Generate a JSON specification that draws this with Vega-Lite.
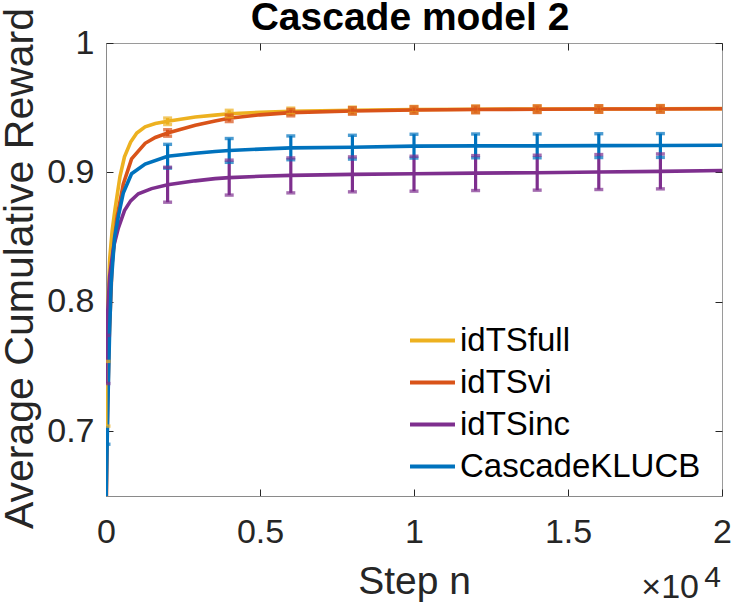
{
  "$schema": "https://vega.github.io/schema/vega-lite/v6.json",
  "width": 616,
  "height": 453,
  "autosize": {"type": "none"},
  "padding": {"left": 106, "top": 43, "right": 9, "bottom": 106},
  "background": "white",
  "datasets": {
    "curves": [
      {"series": "idTSfull", "step": 0, "reward": 0.729},
      {"series": "idTSfull", "step": 30, "reward": 0.765},
      {"series": "idTSfull", "step": 70, "reward": 0.8},
      {"series": "idTSfull", "step": 120, "reward": 0.833},
      {"series": "idTSfull", "step": 200, "reward": 0.855},
      {"series": "idTSfull", "step": 290, "reward": 0.871},
      {"series": "idTSfull", "step": 455, "reward": 0.897},
      {"series": "idTSfull", "step": 600, "reward": 0.912},
      {"series": "idTSfull", "step": 800, "reward": 0.9235},
      {"series": "idTSfull", "step": 1000, "reward": 0.9305},
      {"series": "idTSfull", "step": 1270, "reward": 0.9352},
      {"series": "idTSfull", "step": 1600, "reward": 0.9378},
      {"series": "idTSfull", "step": 2000, "reward": 0.9395},
      {"series": "idTSfull", "step": 2900, "reward": 0.9428},
      {"series": "idTSfull", "step": 3540, "reward": 0.9443},
      {"series": "idTSfull", "step": 4000, "reward": 0.9453},
      {"series": "idTSfull", "step": 5000, "reward": 0.9465},
      {"series": "idTSfull", "step": 6000, "reward": 0.9472},
      {"series": "idTSfull", "step": 8000, "reward": 0.948},
      {"series": "idTSfull", "step": 10000, "reward": 0.9485},
      {"series": "idTSfull", "step": 12000, "reward": 0.9488},
      {"series": "idTSfull", "step": 14000, "reward": 0.949},
      {"series": "idTSfull", "step": 16000, "reward": 0.949},
      {"series": "idTSfull", "step": 18000, "reward": 0.9492},
      {"series": "idTSfull", "step": 20000, "reward": 0.9493},

      {"series": "idTSvi", "step": 0, "reward": 0.62},
      {"series": "idTSvi", "step": 40, "reward": 0.7},
      {"series": "idTSvi", "step": 100, "reward": 0.77},
      {"series": "idTSvi", "step": 200, "reward": 0.83},
      {"series": "idTSvi", "step": 347, "reward": 0.8638},
      {"series": "idTSvi", "step": 560, "reward": 0.891},
      {"series": "idTSvi", "step": 830, "reward": 0.9105},
      {"series": "idTSvi", "step": 1270, "reward": 0.9225},
      {"series": "idTSvi", "step": 1600, "reward": 0.927},
      {"series": "idTSvi", "step": 2000, "reward": 0.9305},
      {"series": "idTSvi", "step": 2900, "reward": 0.9365},
      {"series": "idTSvi", "step": 3540, "reward": 0.9398},
      {"series": "idTSvi", "step": 4000, "reward": 0.9418},
      {"series": "idTSvi", "step": 5000, "reward": 0.9445},
      {"series": "idTSvi", "step": 6000, "reward": 0.9462},
      {"series": "idTSvi", "step": 8000, "reward": 0.9475},
      {"series": "idTSvi", "step": 10000, "reward": 0.9482},
      {"series": "idTSvi", "step": 12000, "reward": 0.9486},
      {"series": "idTSvi", "step": 14000, "reward": 0.9488},
      {"series": "idTSvi", "step": 16000, "reward": 0.949},
      {"series": "idTSvi", "step": 18000, "reward": 0.949},
      {"series": "idTSvi", "step": 20000, "reward": 0.9492},

      {"series": "idTSinc", "step": 0, "reward": 0.7555},
      {"series": "idTSinc", "step": 50, "reward": 0.79},
      {"series": "idTSinc", "step": 120, "reward": 0.82},
      {"series": "idTSinc", "step": 250, "reward": 0.843},
      {"series": "idTSinc", "step": 400, "reward": 0.857},
      {"series": "idTSinc", "step": 600, "reward": 0.8705},
      {"series": "idTSinc", "step": 800, "reward": 0.878},
      {"series": "idTSinc", "step": 1050, "reward": 0.8835},
      {"series": "idTSinc", "step": 1480, "reward": 0.8875},
      {"series": "idTSinc", "step": 2000, "reward": 0.8905},
      {"series": "idTSinc", "step": 2900, "reward": 0.8935},
      {"series": "idTSinc", "step": 3540, "reward": 0.8952},
      {"series": "idTSinc", "step": 4000, "reward": 0.896},
      {"series": "idTSinc", "step": 5000, "reward": 0.897},
      {"series": "idTSinc", "step": 6000, "reward": 0.8977},
      {"series": "idTSinc", "step": 8000, "reward": 0.8985},
      {"series": "idTSinc", "step": 10000, "reward": 0.899},
      {"series": "idTSinc", "step": 12000, "reward": 0.8995},
      {"series": "idTSinc", "step": 14000, "reward": 0.8998},
      {"series": "idTSinc", "step": 16000, "reward": 0.9003},
      {"series": "idTSinc", "step": 18000, "reward": 0.9008},
      {"series": "idTSinc", "step": 20000, "reward": 0.9015},

      {"series": "CascadeKLUCB", "step": 0, "reward": 0.645},
      {"series": "CascadeKLUCB", "step": 60, "reward": 0.72},
      {"series": "CascadeKLUCB", "step": 120, "reward": 0.78},
      {"series": "CascadeKLUCB", "step": 170, "reward": 0.815},
      {"series": "CascadeKLUCB", "step": 280, "reward": 0.85},
      {"series": "CascadeKLUCB", "step": 400, "reward": 0.866},
      {"series": "CascadeKLUCB", "step": 560, "reward": 0.884},
      {"series": "CascadeKLUCB", "step": 830, "reward": 0.899},
      {"series": "CascadeKLUCB", "step": 1270, "reward": 0.9065},
      {"series": "CascadeKLUCB", "step": 2000, "reward": 0.9125},
      {"series": "CascadeKLUCB", "step": 2900, "reward": 0.9148},
      {"series": "CascadeKLUCB", "step": 3540, "reward": 0.9162},
      {"series": "CascadeKLUCB", "step": 4000, "reward": 0.917},
      {"series": "CascadeKLUCB", "step": 5000, "reward": 0.918},
      {"series": "CascadeKLUCB", "step": 6000, "reward": 0.919},
      {"series": "CascadeKLUCB", "step": 8000, "reward": 0.9195},
      {"series": "CascadeKLUCB", "step": 10000, "reward": 0.9203},
      {"series": "CascadeKLUCB", "step": 12000, "reward": 0.9205},
      {"series": "CascadeKLUCB", "step": 14000, "reward": 0.9205},
      {"series": "CascadeKLUCB", "step": 16000, "reward": 0.9207},
      {"series": "CascadeKLUCB", "step": 18000, "reward": 0.9208},
      {"series": "CascadeKLUCB", "step": 20000, "reward": 0.921}
    ],
    "bars": [
      {"series": "idTSfull", "step": 0, "lo": 0.704, "hi": 0.754},
      {"series": "idTSfull", "step": 2000, "lo": 0.937, "hi": 0.942},
      {"series": "idTSfull", "step": 4000, "lo": 0.943, "hi": 0.948},
      {"series": "idTSfull", "step": 6000, "lo": 0.9447, "hi": 0.9497},
      {"series": "idTSfull", "step": 8000, "lo": 0.9455, "hi": 0.9505},
      {"series": "idTSfull", "step": 10000, "lo": 0.946, "hi": 0.951},
      {"series": "idTSfull", "step": 12000, "lo": 0.9463, "hi": 0.9513},
      {"series": "idTSfull", "step": 14000, "lo": 0.9465, "hi": 0.9515},
      {"series": "idTSfull", "step": 16000, "lo": 0.9465, "hi": 0.9515},
      {"series": "idTSfull", "step": 18000, "lo": 0.9467, "hi": 0.9517},

      {"series": "idTSvi", "step": 0, "lo": 0.595, "hi": 0.645},
      {"series": "idTSvi", "step": 2000, "lo": 0.928, "hi": 0.933},
      {"series": "idTSvi", "step": 4000, "lo": 0.9393, "hi": 0.9443},
      {"series": "idTSvi", "step": 6000, "lo": 0.9437, "hi": 0.9487},
      {"series": "idTSvi", "step": 8000, "lo": 0.945, "hi": 0.95},
      {"series": "idTSvi", "step": 10000, "lo": 0.9457, "hi": 0.9507},
      {"series": "idTSvi", "step": 12000, "lo": 0.9461, "hi": 0.9511},
      {"series": "idTSvi", "step": 14000, "lo": 0.9463, "hi": 0.9513},
      {"series": "idTSvi", "step": 16000, "lo": 0.9465, "hi": 0.9515},
      {"series": "idTSvi", "step": 18000, "lo": 0.9465, "hi": 0.9515},

      {"series": "idTSinc", "step": 0, "lo": 0.7369, "hi": 0.7741},
      {"series": "idTSinc", "step": 2000, "lo": 0.877, "hi": 0.904},
      {"series": "idTSinc", "step": 4000, "lo": 0.8825, "hi": 0.9095},
      {"series": "idTSinc", "step": 6000, "lo": 0.8842, "hi": 0.9112},
      {"series": "idTSinc", "step": 8000, "lo": 0.885, "hi": 0.912},
      {"series": "idTSinc", "step": 10000, "lo": 0.8855, "hi": 0.9125},
      {"series": "idTSinc", "step": 12000, "lo": 0.886, "hi": 0.913},
      {"series": "idTSinc", "step": 14000, "lo": 0.8863, "hi": 0.9133},
      {"series": "idTSinc", "step": 16000, "lo": 0.8868, "hi": 0.9138},
      {"series": "idTSinc", "step": 18000, "lo": 0.8873, "hi": 0.9143},

      {"series": "CascadeKLUCB", "step": 0, "lo": 0.6, "hi": 0.69},
      {"series": "CascadeKLUCB", "step": 2000, "lo": 0.9033, "hi": 0.9217},
      {"series": "CascadeKLUCB", "step": 4000, "lo": 0.9078, "hi": 0.9262},
      {"series": "CascadeKLUCB", "step": 6000, "lo": 0.9098, "hi": 0.9282},
      {"series": "CascadeKLUCB", "step": 8000, "lo": 0.9103, "hi": 0.9287},
      {"series": "CascadeKLUCB", "step": 10000, "lo": 0.9111, "hi": 0.9295},
      {"series": "CascadeKLUCB", "step": 12000, "lo": 0.9113, "hi": 0.9297},
      {"series": "CascadeKLUCB", "step": 14000, "lo": 0.9113, "hi": 0.9297},
      {"series": "CascadeKLUCB", "step": 16000, "lo": 0.9115, "hi": 0.9299},
      {"series": "CascadeKLUCB", "step": 18000, "lo": 0.9116, "hi": 0.93}
    ]
  },
  "layer": [
    {
      "data": {"name": "curves"},
      "mark": {"type": "line", "strokeWidth": 3.6, "clip": true},
      "encoding": {
        "x": {
          "field": "step",
          "type": "quantitative",
          "scale": {"domain": [0, 20000], "nice": false, "zero": false},
          "axis": {
            "orient": "bottom",
            "values": [0, 5000, 10000, 15000, 20000],
            "labelExpr": "'' + datum.value / 10000",
            "tickSize": -7,
            "labelPadding": 53,
            "labelBaseline": "alphabetic",
            "title": "Step n",
            "titleY": 97,
            "titleBaseline": "alphabetic"
          }
        },
        "y": {
          "field": "reward",
          "type": "quantitative",
          "scale": {"domain": [0.65, 1], "nice": false, "zero": false},
          "axis": {
            "orient": "left",
            "values": [0.7, 0.8, 0.9, 1],
            "labelExpr": "datum.value == 1 ? '1' : format(datum.value, '.1f')",
            "tickSize": -7,
            "labelPadding": 19,
            "labelBaseline": "middle",
            "title": "Average Cumulative Reward",
            "titleFontSize": 41,
            "titleX": -74,
            "titleY": 225,
            "titleBaseline": "alphabetic"
          }
        },
        "color": {
          "field": "series",
          "type": "nominal",
          "sort": null,
          "scale": {
            "domain": ["idTSfull", "idTSvi", "idTSinc", "CascadeKLUCB"],
            "range": ["#EDB120", "#D95319", "#7E2F8E", "#0072BD"]
          },
          "legend": {
            "orient": "none",
            "legendX": 310,
            "legendY": 281,
            "title": null,
            "padding": 0,
            "symbolType": "M-2,0H2",
            "symbolSize": 506,
            "symbolStrokeWidth": 4,
            "labelFontSize": 33,
            "labelColor": "black",
            "labelLimit": 400,
            "labelOffset": 11,
            "rowPadding": 8
          }
        }
      }
    },
    {
      "data": {"name": "bars"},
      "mark": {"type": "rule", "strokeWidth": 3.2, "clip": true},
      "encoding": {
        "x": {
          "field": "step",
          "type": "quantitative",
          "axis": {
            "orient": "top",
            "values": [0, 5000, 10000, 15000, 20000],
            "labels": false,
            "domain": false,
            "tickSize": -7,
            "title": null
          }
        },
        "y": {
          "field": "lo",
          "type": "quantitative",
          "axis": {
            "orient": "right",
            "values": [0.7, 0.8, 0.9, 1],
            "labels": false,
            "domain": false,
            "tickSize": -7,
            "title": null
          }
        },
        "y2": {"field": "hi"},
        "color": {"field": "series", "type": "nominal", "sort": null, "legend": null}
      }
    },
    {
      "data": {"name": "bars"},
      "mark": {"type": "tick", "orient": "horizontal", "size": 9, "thickness": 3.4, "clip": true},
      "encoding": {
        "x": {"field": "step", "type": "quantitative", "axis": null},
        "y": {"field": "lo", "type": "quantitative", "axis": null},
        "color": {"field": "series", "type": "nominal", "sort": null, "legend": null}
      }
    },
    {
      "data": {"name": "bars"},
      "mark": {"type": "tick", "orient": "horizontal", "size": 9, "thickness": 3.4, "clip": true},
      "encoding": {
        "x": {"field": "step", "type": "quantitative", "axis": null},
        "y": {"field": "hi", "type": "quantitative", "axis": null},
        "color": {"field": "series", "type": "nominal", "sort": null, "legend": null}
      }
    },
    {
      "data": {"values": [{"label": "Cascade model 2"}]},
      "mark": {"type": "text", "align": "center", "baseline": "alphabetic", "dx": -4, "dy": -13, "fontSize": 39, "fontWeight": "bold", "color": "black"},
      "encoding": {
        "x": {"datum": 10000, "type": "quantitative", "axis": null},
        "y": {"datum": 1, "type": "quantitative", "axis": null},
        "text": {"field": "label"}
      }
    },
    {
      "data": {"values": [{"label": "×10"}]},
      "mark": {"type": "text", "align": "right", "baseline": "alphabetic", "dx": -23, "dy": 102, "fontSize": 34, "color": "#262626"},
      "encoding": {
        "x": {"datum": 20000, "type": "quantitative", "axis": null},
        "y": {"datum": 0.65, "type": "quantitative", "axis": null},
        "text": {"field": "label"}
      }
    },
    {
      "data": {"values": [{"label": "4"}]},
      "mark": {"type": "text", "align": "right", "baseline": "alphabetic", "dx": -1, "dy": 91, "fontSize": 30, "color": "#262626"},
      "encoding": {
        "x": {"datum": 20000, "type": "quantitative", "axis": null},
        "y": {"datum": 0.65, "type": "quantitative", "axis": null},
        "text": {"field": "label"}
      }
    }
  ],
  "resolve": {"axis": {"x": "independent", "y": "independent"}},
  "config": {
    "font": "Liberation Sans",
    "view": {"stroke": "#9a9a9a", "strokeWidth": 1},
    "axis": {
      "grid": false,
      "labelFlush": false,
      "labelOverlap": false,
      "labelBound": false,
      "labelFontSize": 34,
      "labelColor": "#262626",
      "labelFont": "Liberation Sans",
      "titleFont": "Liberation Sans",
      "titleFontSize": 39,
      "titleFontWeight": "normal",
      "titleColor": "#262626",
      "domainColor": "#8a8a8a",
      "tickColor": "#262626",
      "tickWidth": 1
    },
    "legend": {"labelFont": "Liberation Sans"}
  }
}
